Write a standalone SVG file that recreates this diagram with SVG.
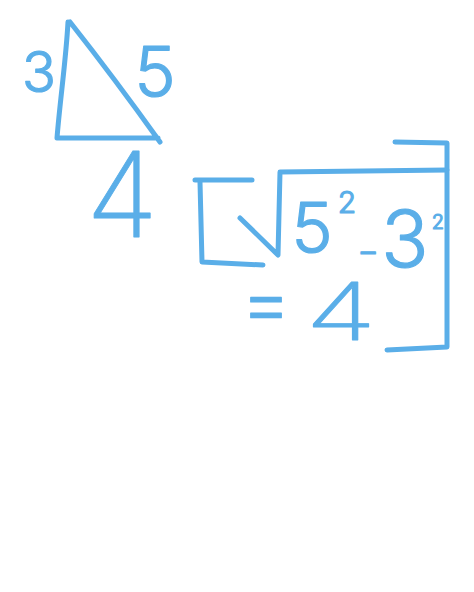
<svg xmlns="http://www.w3.org/2000/svg" width="474" height="592" viewBox="0 0 474 592">
<style>
.s{fill:none;stroke:#5aaee8;stroke-width:5;stroke-linecap:round;stroke-linejoin:round}
.t{fill:#5aaee8;stroke:#5aaee8;stroke-width:1.2;stroke-linejoin:round;font-family:Inter,"Liberation Sans",sans-serif;font-weight:300;text-anchor:middle}
.b{font-weight:200;stroke-width:0.8}
</style>
<rect width="474" height="592" fill="#ffffff"/>
<g id="triangle">
<path class="s" d="M68,22 C66,60 60,100 57,138 L158,138 M70,22 C100,60 130,100 160,142"/>
</g>
<g id="labels">
<text class="t" x="39" y="92" font-size="56">3</text>
<text class="t" x="155" y="97" font-size="70">5</text>
<text class="t b" x="122" y="237" font-size="118">4</text>
</g>
<g id="box">
<path class="s" d="M195,180 L252,180 M200,182 L202,262 L263,265"/>
<path class="s" d="M240,218 L278,255 L280,172 L447,170"/>
<path class="s" d="M395,142 L447,143 L447,347 L387,350"/>
</g>
<g id="formula">
<text class="t" x="312" y="253" font-size="70">5</text>
<text class="t" x="347" y="213" font-size="30">2</text>
<text class="t" font-size="36" transform="translate(368,264) scale(1.3,1)">-</text>
<text class="t" x="405" y="267" font-size="78">3</text>
<text class="t" x="438" y="229" font-size="20">2</text>
<text class="t" x="266" y="329" font-size="75">=</text>
<text class="t b" font-size="80" transform="translate(341,340) scale(1.45,1)">4</text>
</g>
</svg>
